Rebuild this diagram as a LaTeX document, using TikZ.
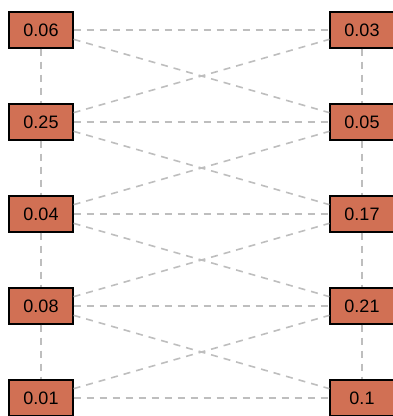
\documentclass[tikz,border=0pt]{standalone}
\usepackage{fontspec}
\setmainfont{Liberation Sans}
\usepackage{xcolor}
\usepackage{tikz}
\usetikzlibrary{positioning}

\definecolor{boxfill}{RGB}{209,112,84}
\definecolor{linkgray}{RGB}{190,190,190}

\tikzset{
  prob/.style={draw=black, line width=1.2pt, fill=boxfill, rectangle,
    minimum width=64pt, minimum height=36pt, inner sep=0pt,
    font=\fontsize{18}{20}\selectfont},
  link/.style={draw=linkgray, line width=1.6pt, dash pattern=on 7pt off 6pt}
}

\begin{document}
\begin{tikzpicture}[x=1pt, y=-1pt]
          \useasboundingbox (0,0) rectangle (393,416);

          \node[prob] (L1) at (41,30) {0.06};
          \node[prob] (L2) at (41,122) {0.25};
          \node[prob] (L3) at (41,214) {0.04};
          \node[prob] (L4) at (41,306) {0.08};
          \node[prob] (L5) at (41,398) {0.01};

          \node[prob] (R1) at (362,30) {0.03};
          \node[prob] (R2) at (362,122) {0.05};
          \node[prob] (R3) at (362,214) {0.17};
          \node[prob] (R4) at (362,306) {0.21};
          \node[prob] (R5) at (362,398) {0.1};

          % columns
          \draw[link] (L1) -- (L2);
          \draw[link] (L2) -- (L3);
          \draw[link] (L3) -- (L4);
          \draw[link] (L4) -- (L5);
          \draw[link] (R1) -- (R2);
          \draw[link] (R2) -- (R3);
          \draw[link] (R3) -- (R4);
          \draw[link] (R4) -- (R5);

          % rows
          \draw[link] (L1) -- (R1);
          \draw[link] (L2) -- (R2);
          \draw[link] (L3) -- (R3);
          \draw[link] (L4) -- (R4);
          \draw[link] (L5) -- (R5);

          % crossings
          \draw[link] (L1) -- (R2);
          \draw[link] (L2) -- (R1);
          \draw[link] (L2) -- (R3);
          \draw[link] (L3) -- (R2);
          \draw[link] (L3) -- (R4);
          \draw[link] (L4) -- (R3);
          \draw[link] (L4) -- (R5);
          \draw[link] (L5) -- (R4);
        \end{tikzpicture}
\end{document}
